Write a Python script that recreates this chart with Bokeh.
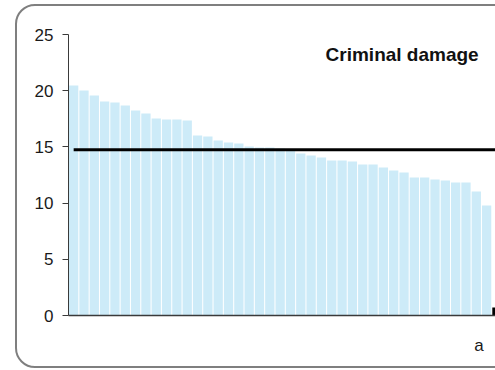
from bokeh.plotting import figure
from bokeh.models import ColumnDataSource, Range1d, Label, FixedTicker, InlineStyleSheet
from bokeh.embed import file_html
from bokeh.resources import INLINE

# ---- data ----
chart_title = "Criminal damage"
rates = [20.46, 20.02, 19.57, 19.04, 18.95, 18.68, 18.24, 17.97, 17.53, 17.44, 17.44, 17.35,
         16.01, 15.93, 15.57, 15.39, 15.30, 15.04, 14.95, 14.95, 14.85, 14.70, 14.41, 14.23,
         14.06, 13.79, 13.79, 13.70, 13.43, 13.43, 13.17, 12.90, 12.72, 12.28, 12.28, 12.10,
         12.01, 11.83, 11.83, 11.03, 9.79]
average_rate = 14.74
extra_category_label = " a"
extra_value = 0.72
y_ticks = [0, 5, 10, 15, 20, 25]

FONT = "Liberation Sans"
X_END = 40.86

positions = list(range(len(rates)))
src = ColumnDataSource(dict(x=positions, top=rates))

# rounded chart border, drawn by CSS around the plot (clipped at the right edge)
border_css = InlineStyleSheet(css="""
:host { overflow: hidden; }
:host::after {
  content: ""; position: absolute; left: 15px; top: 4px;
  width: 520px; height: 364px; box-sizing: border-box;
  border: 2px solid #7f7f7f; border-radius: 20px;
  pointer-events: none; z-index: 10;
}
""")

p = figure(width=495, height=370, output_backend="svg", toolbar_location=None,
           x_range=Range1d(-0.5, X_END), y_range=Range1d(0, 25),
           min_border_left=68, min_border_right=0, min_border_top=34, min_border_bottom=55,
           stylesheets=[border_css])
p.background_fill_color = "white"
p.border_fill_color = "white"
p.outline_line_color = None
p.xgrid.visible = False
p.ygrid.visible = False

p.vbar(x="x", top="top", width=0.9, source=src, fill_color="#cdebf8", line_color=None)
p.vbar(x=[len(rates)], top=[extra_value], width=0.9, fill_color="black", line_color=None)
p.line(x=[0, len(rates)], y=[average_rate, average_rate], line_color="black", line_width=3)

# axes
p.yaxis.ticker = FixedTicker(ticks=y_ticks)
p.yaxis.axis_line_color = "#3a3a3a"
p.yaxis.major_tick_line_color = "#3a3a3a"
p.yaxis.major_tick_out = 6
p.yaxis.major_tick_in = 0
p.yaxis.minor_tick_line_color = None
p.yaxis.major_label_standoff = 9
p.yaxis.major_label_text_font = FONT
p.yaxis.major_label_text_font_size = "17px"
p.yaxis.major_label_text_color = "#1a1a1a"

# x axis: only the clipped category label at the right edge is visible
edge_tick = X_END - 0.01
p.xaxis.ticker = FixedTicker(ticks=[edge_tick])
p.xaxis.major_label_overrides = {edge_tick: extra_category_label}
p.xaxis.axis_line_color = "#3a3a3a"
p.xaxis.axis_line_width = 1.5
p.xaxis.major_tick_line_color = None
p.xaxis.major_tick_out = 0
p.xaxis.major_tick_in = 0
p.xaxis.minor_tick_line_color = None
p.xaxis.major_label_standoff = 20
p.xaxis.major_label_text_font = FONT
p.xaxis.major_label_text_font_size = "17px"
p.xaxis.major_label_text_color = "#1a1a1a"

# title inside the plot area
p.add_layout(Label(x=24.4, y=23.19, text=chart_title, text_font=FONT, text_font_size="19px",
                   text_font_style="bold", text_color="#111111", text_baseline="alphabetic"))

open("out.html", "w").write(file_html(p, INLINE))
